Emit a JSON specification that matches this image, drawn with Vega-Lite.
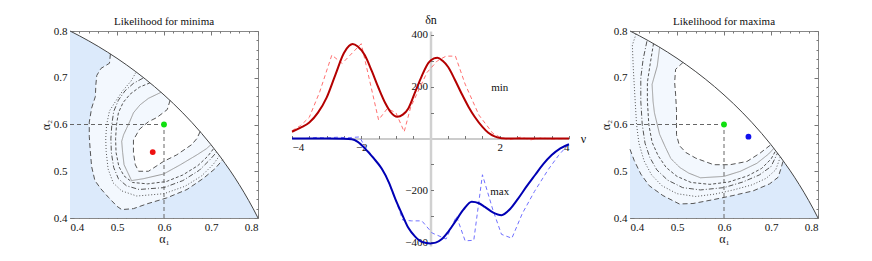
{
  "$schema": "https://vega.github.io/schema/vega-lite/v6.json",
  "background": "white",
  "padding": {"left": 38, "top": 13, "right": 5, "bottom": 5},
  "bounds": "flush",
  "spacing": 34,
  "config": {
    "font": "Liberation Serif",
    "view": {"stroke": "#888888", "strokeWidth": 1},
    "axis": {"labelFont": "Liberation Serif", "titleFont": "Liberation Serif", "labelFontSize": 11, "titleFontSize": 12, "labelColor": "#111111", "titleColor": "#111111", "titleFontWeight": "normal", "grid": false, "tickColor": "#777777", "domainColor": "#888888"},
    "title": {"font": "Liberation Serif", "fontSize": 11, "fontWeight": "normal", "color": "#111111", "offset": -2, "frame": "group"},
    "text": {"font": "Liberation Serif"}
  },
  "datasets": {
    "arc": [
      {"a1": 0.40, "a2": 0.8}, {"a1": 0.42, "a2": 0.7897}, {"a1": 0.44, "a2": 0.7787}, {"a1": 0.46, "a2": 0.7671}, {"a1": 0.48, "a2": 0.7547}, {"a1": 0.50, "a2": 0.7416}, {"a1": 0.52, "a2": 0.7277}, {"a1": 0.54, "a2": 0.7130}, {"a1": 0.56, "a2": 0.6974}, {"a1": 0.58, "a2": 0.6809}, {"a1": 0.60, "a2": 0.6633}, {"a1": 0.62, "a2": 0.6447}, {"a1": 0.64, "a2": 0.6248}, {"a1": 0.66, "a2": 0.6037}, {"a1": 0.68, "a2": 0.5810}, {"a1": 0.70, "a2": 0.5568}, {"a1": 0.72, "a2": 0.5307}, {"a1": 0.73, "a2": 0.5166}, {"a1": 0.74, "a2": 0.5024}, {"a1": 0.75, "a2": 0.4873}, {"a1": 0.76, "a2": 0.4716}, {"a1": 0.77, "a2": 0.4551}, {"a1": 0.78, "a2": 0.4377}, {"a1": 0.79, "a2": 0.4195}, {"a1": 0.80, "a2": 0.4}
    ],
    "minC": [
      {"c": 1, "i": 0, "a1": 0.486, "a2": 0.751}, {"c": 1, "i": 1, "a1": 0.484, "a2": 0.731}, {"c": 1, "i": 2, "a1": 0.466, "a2": 0.72}, {"c": 1, "i": 3, "a1": 0.457, "a2": 0.705}, {"c": 1, "i": 4, "a1": 0.455, "a2": 0.685}, {"c": 1, "i": 5, "a1": 0.454, "a2": 0.66}, {"c": 1, "i": 6, "a1": 0.446, "a2": 0.635}, {"c": 1, "i": 7, "a1": 0.441, "a2": 0.605}, {"c": 1, "i": 8, "a1": 0.441, "a2": 0.575}, {"c": 1, "i": 9, "a1": 0.443, "a2": 0.545}, {"c": 1, "i": 10, "a1": 0.446, "a2": 0.51}, {"c": 1, "i": 11, "a1": 0.453, "a2": 0.48}, {"c": 1, "i": 12, "a1": 0.466, "a2": 0.462}, {"c": 1, "i": 13, "a1": 0.482, "a2": 0.444}, {"c": 1, "i": 14, "a1": 0.5, "a2": 0.425}, {"c": 1, "i": 15, "a1": 0.51, "a2": 0.418}, {"c": 1, "i": 16, "a1": 0.535, "a2": 0.42}, {"c": 1, "i": 17, "a1": 0.563, "a2": 0.43}, {"c": 1, "i": 18, "a1": 0.606, "a2": 0.443}, {"c": 1, "i": 19, "a1": 0.649, "a2": 0.461}, {"c": 1, "i": 20, "a1": 0.684, "a2": 0.485}, {"c": 1, "i": 21, "a1": 0.708, "a2": 0.505}, {"c": 1, "i": 22, "a1": 0.725, "a2": 0.5245},
      {"c": 2, "i": 0, "a1": 0.54, "a2": 0.711}, {"c": 2, "i": 1, "a1": 0.53, "a2": 0.693}, {"c": 2, "i": 2, "a1": 0.512, "a2": 0.672}, {"c": 2, "i": 3, "a1": 0.498, "a2": 0.651}, {"c": 2, "i": 4, "a1": 0.484, "a2": 0.629}, {"c": 2, "i": 5, "a1": 0.478, "a2": 0.6}, {"c": 2, "i": 6, "a1": 0.476, "a2": 0.57}, {"c": 2, "i": 7, "a1": 0.477, "a2": 0.542}, {"c": 2, "i": 8, "a1": 0.481, "a2": 0.505}, {"c": 2, "i": 9, "a1": 0.492, "a2": 0.475}, {"c": 2, "i": 10, "a1": 0.51, "a2": 0.458}, {"c": 2, "i": 11, "a1": 0.542, "a2": 0.447}, {"c": 2, "i": 12, "a1": 0.6, "a2": 0.452}, {"c": 2, "i": 13, "a1": 0.645, "a2": 0.468}, {"c": 2, "i": 14, "a1": 0.68, "a2": 0.49}, {"c": 2, "i": 15, "a1": 0.705, "a2": 0.515}, {"c": 2, "i": 16, "a1": 0.718, "a2": 0.533},
      {"c": 3, "i": 0, "a1": 0.555, "a2": 0.699}, {"c": 3, "i": 1, "a1": 0.535, "a2": 0.688}, {"c": 3, "i": 2, "a1": 0.517, "a2": 0.672}, {"c": 3, "i": 3, "a1": 0.503, "a2": 0.652}, {"c": 3, "i": 4, "a1": 0.493, "a2": 0.628}, {"c": 3, "i": 5, "a1": 0.489, "a2": 0.6}, {"c": 3, "i": 6, "a1": 0.487, "a2": 0.57}, {"c": 3, "i": 7, "a1": 0.488, "a2": 0.54}, {"c": 3, "i": 8, "a1": 0.493, "a2": 0.508}, {"c": 3, "i": 9, "a1": 0.503, "a2": 0.484}, {"c": 3, "i": 10, "a1": 0.52, "a2": 0.469}, {"c": 3, "i": 11, "a1": 0.547, "a2": 0.461}, {"c": 3, "i": 12, "a1": 0.6, "a2": 0.465}, {"c": 3, "i": 13, "a1": 0.64, "a2": 0.48}, {"c": 3, "i": 14, "a1": 0.675, "a2": 0.502}, {"c": 3, "i": 15, "a1": 0.698, "a2": 0.525}, {"c": 3, "i": 16, "a1": 0.712, "a2": 0.541},
      {"c": 4, "i": 0, "a1": 0.57, "a2": 0.689}, {"c": 4, "i": 1, "a1": 0.548, "a2": 0.68}, {"c": 4, "i": 2, "a1": 0.528, "a2": 0.665}, {"c": 4, "i": 3, "a1": 0.513, "a2": 0.647}, {"c": 4, "i": 4, "a1": 0.503, "a2": 0.625}, {"c": 4, "i": 5, "a1": 0.499, "a2": 0.6}, {"c": 4, "i": 6, "a1": 0.497, "a2": 0.57}, {"c": 4, "i": 7, "a1": 0.498, "a2": 0.54}, {"c": 4, "i": 8, "a1": 0.504, "a2": 0.51}, {"c": 4, "i": 9, "a1": 0.515, "a2": 0.49}, {"c": 4, "i": 10, "a1": 0.533, "a2": 0.476}, {"c": 4, "i": 11, "a1": 0.565, "a2": 0.473}, {"c": 4, "i": 12, "a1": 0.605, "a2": 0.478}, {"c": 4, "i": 13, "a1": 0.64, "a2": 0.492}, {"c": 4, "i": 14, "a1": 0.672, "a2": 0.512}, {"c": 4, "i": 15, "a1": 0.693, "a2": 0.532}, {"c": 4, "i": 16, "a1": 0.706, "a2": 0.549},
      {"c": 5, "i": 0, "a1": 0.594, "a2": 0.669}, {"c": 5, "i": 1, "a1": 0.567, "a2": 0.656}, {"c": 5, "i": 2, "a1": 0.549, "a2": 0.642}, {"c": 5, "i": 3, "a1": 0.535, "a2": 0.625}, {"c": 5, "i": 4, "a1": 0.527, "a2": 0.606}, {"c": 5, "i": 5, "a1": 0.514, "a2": 0.578}, {"c": 5, "i": 6, "a1": 0.51, "a2": 0.564}, {"c": 5, "i": 7, "a1": 0.512, "a2": 0.54}, {"c": 5, "i": 8, "a1": 0.515, "a2": 0.514}, {"c": 5, "i": 9, "a1": 0.531, "a2": 0.48}, {"c": 5, "i": 10, "a1": 0.556, "a2": 0.484}, {"c": 5, "i": 11, "a1": 0.599, "a2": 0.494}, {"c": 5, "i": 12, "a1": 0.635, "a2": 0.514}, {"c": 5, "i": 13, "a1": 0.67, "a2": 0.535}, {"c": 5, "i": 14, "a1": 0.69, "a2": 0.548}, {"c": 5, "i": 15, "a1": 0.7, "a2": 0.557},
      {"c": 6, "i": 0, "a1": 0.613, "a2": 0.652}, {"c": 6, "i": 1, "a1": 0.607, "a2": 0.632}, {"c": 6, "i": 2, "a1": 0.585, "a2": 0.615}, {"c": 6, "i": 3, "a1": 0.567, "a2": 0.606}, {"c": 6, "i": 4, "a1": 0.548, "a2": 0.59}, {"c": 6, "i": 5, "a1": 0.535, "a2": 0.567}, {"c": 6, "i": 6, "a1": 0.535, "a2": 0.54}, {"c": 6, "i": 7, "a1": 0.539, "a2": 0.514}, {"c": 6, "i": 8, "a1": 0.546, "a2": 0.5}, {"c": 6, "i": 9, "a1": 0.567, "a2": 0.5}, {"c": 6, "i": 10, "a1": 0.599, "a2": 0.521}, {"c": 6, "i": 11, "a1": 0.627, "a2": 0.535}, {"c": 6, "i": 12, "a1": 0.659, "a2": 0.557}, {"c": 6, "i": 13, "a1": 0.67, "a2": 0.57}, {"c": 6, "i": 14, "a1": 0.677, "a2": 0.585}
    ],
    "maxC": [
      {"c": 1, "i": 0, "a1": 0.4, "a2": 0.547}, {"c": 1, "i": 1, "a1": 0.409, "a2": 0.523}, {"c": 1, "i": 2, "a1": 0.423, "a2": 0.494}, {"c": 1, "i": 3, "a1": 0.441, "a2": 0.469}, {"c": 1, "i": 4, "a1": 0.47, "a2": 0.448}, {"c": 1, "i": 5, "a1": 0.505, "a2": 0.43}, {"c": 1, "i": 6, "a1": 0.534, "a2": 0.431}, {"c": 1, "i": 7, "a1": 0.576, "a2": 0.439}, {"c": 1, "i": 8, "a1": 0.619, "a2": 0.448}, {"c": 1, "i": 9, "a1": 0.662, "a2": 0.458}, {"c": 1, "i": 10, "a1": 0.697, "a2": 0.473}, {"c": 1, "i": 11, "a1": 0.715, "a2": 0.487}, {"c": 1, "i": 12, "a1": 0.721, "a2": 0.505}, {"c": 1, "i": 13, "a1": 0.726, "a2": 0.523},
      {"c": 2, "i": 0, "a1": 0.413, "a2": 0.794}, {"c": 2, "i": 1, "a1": 0.405, "a2": 0.77}, {"c": 2, "i": 2, "a1": 0.407, "a2": 0.72}, {"c": 2, "i": 3, "a1": 0.411, "a2": 0.65}, {"c": 2, "i": 4, "a1": 0.414, "a2": 0.6}, {"c": 2, "i": 5, "a1": 0.419, "a2": 0.56}, {"c": 2, "i": 6, "a1": 0.43, "a2": 0.522}, {"c": 2, "i": 7, "a1": 0.446, "a2": 0.492}, {"c": 2, "i": 8, "a1": 0.468, "a2": 0.469}, {"c": 2, "i": 9, "a1": 0.5, "a2": 0.452}, {"c": 2, "i": 10, "a1": 0.54, "a2": 0.446}, {"c": 2, "i": 11, "a1": 0.58, "a2": 0.451}, {"c": 2, "i": 12, "a1": 0.62, "a2": 0.46}, {"c": 2, "i": 13, "a1": 0.66, "a2": 0.471}, {"c": 2, "i": 14, "a1": 0.69, "a2": 0.485}, {"c": 2, "i": 15, "a1": 0.71, "a2": 0.503}, {"c": 2, "i": 16, "a1": 0.72, "a2": 0.531},
      {"c": 3, "i": 0, "a1": 0.436, "a2": 0.778}, {"c": 3, "i": 1, "a1": 0.428, "a2": 0.74}, {"c": 3, "i": 2, "a1": 0.423, "a2": 0.7}, {"c": 3, "i": 3, "a1": 0.423, "a2": 0.65}, {"c": 3, "i": 4, "a1": 0.426, "a2": 0.6}, {"c": 3, "i": 5, "a1": 0.432, "a2": 0.56}, {"c": 3, "i": 6, "a1": 0.442, "a2": 0.53}, {"c": 3, "i": 7, "a1": 0.457, "a2": 0.503}, {"c": 3, "i": 8, "a1": 0.48, "a2": 0.481}, {"c": 3, "i": 9, "a1": 0.512, "a2": 0.465}, {"c": 3, "i": 10, "a1": 0.55, "a2": 0.46}, {"c": 3, "i": 11, "a1": 0.6, "a2": 0.465}, {"c": 3, "i": 12, "a1": 0.64, "a2": 0.477}, {"c": 3, "i": 13, "a1": 0.675, "a2": 0.492}, {"c": 3, "i": 14, "a1": 0.7, "a2": 0.51}, {"c": 3, "i": 15, "a1": 0.714, "a2": 0.539},
      {"c": 4, "i": 0, "a1": 0.45, "a2": 0.773}, {"c": 4, "i": 1, "a1": 0.443, "a2": 0.73}, {"c": 4, "i": 2, "a1": 0.437, "a2": 0.69}, {"c": 4, "i": 3, "a1": 0.437, "a2": 0.65}, {"c": 4, "i": 4, "a1": 0.44, "a2": 0.6}, {"c": 4, "i": 5, "a1": 0.447, "a2": 0.562}, {"c": 4, "i": 6, "a1": 0.46, "a2": 0.533}, {"c": 4, "i": 7, "a1": 0.477, "a2": 0.508}, {"c": 4, "i": 8, "a1": 0.5, "a2": 0.489}, {"c": 4, "i": 9, "a1": 0.53, "a2": 0.476}, {"c": 4, "i": 10, "a1": 0.57, "a2": 0.472}, {"c": 4, "i": 11, "a1": 0.61, "a2": 0.477}, {"c": 4, "i": 12, "a1": 0.65, "a2": 0.49}, {"c": 4, "i": 13, "a1": 0.68, "a2": 0.506}, {"c": 4, "i": 14, "a1": 0.7, "a2": 0.526}, {"c": 4, "i": 15, "a1": 0.71, "a2": 0.544},
      {"c": 5, "i": 0, "a1": 0.463, "a2": 0.765}, {"c": 5, "i": 1, "a1": 0.458, "a2": 0.725}, {"c": 5, "i": 2, "a1": 0.447, "a2": 0.686}, {"c": 5, "i": 3, "a1": 0.449, "a2": 0.65}, {"c": 5, "i": 4, "a1": 0.452, "a2": 0.625}, {"c": 5, "i": 5, "a1": 0.463, "a2": 0.579}, {"c": 5, "i": 6, "a1": 0.475, "a2": 0.552}, {"c": 5, "i": 7, "a1": 0.487, "a2": 0.527}, {"c": 5, "i": 8, "a1": 0.506, "a2": 0.508}, {"c": 5, "i": 9, "a1": 0.525, "a2": 0.496}, {"c": 5, "i": 10, "a1": 0.55, "a2": 0.486}, {"c": 5, "i": 11, "a1": 0.6, "a2": 0.489}, {"c": 5, "i": 12, "a1": 0.635, "a2": 0.5}, {"c": 5, "i": 13, "a1": 0.67, "a2": 0.517}, {"c": 5, "i": 14, "a1": 0.695, "a2": 0.537}, {"c": 5, "i": 15, "a1": 0.706, "a2": 0.549},
      {"c": 6, "i": 0, "a1": 0.513, "a2": 0.733}, {"c": 6, "i": 1, "a1": 0.497, "a2": 0.718}, {"c": 6, "i": 2, "a1": 0.495, "a2": 0.69}, {"c": 6, "i": 3, "a1": 0.497, "a2": 0.665}, {"c": 6, "i": 4, "a1": 0.499, "a2": 0.63}, {"c": 6, "i": 5, "a1": 0.499, "a2": 0.6}, {"c": 6, "i": 6, "a1": 0.499, "a2": 0.578}, {"c": 6, "i": 7, "a1": 0.505, "a2": 0.555}, {"c": 6, "i": 8, "a1": 0.519, "a2": 0.54}, {"c": 6, "i": 9, "a1": 0.54, "a2": 0.528}, {"c": 6, "i": 10, "a1": 0.578, "a2": 0.514}, {"c": 6, "i": 11, "a1": 0.613, "a2": 0.514}, {"c": 6, "i": 12, "a1": 0.649, "a2": 0.521}, {"c": 6, "i": 13, "a1": 0.677, "a2": 0.539}, {"c": 6, "i": 14, "a1": 0.7, "a2": 0.557}
    ],
    "minP1": [
      {"i": 0, "a1": 0.486, "a2": 0.751}, {"i": 1, "a1": 0.484, "a2": 0.731}, {"i": 2, "a1": 0.466, "a2": 0.72}, {"i": 3, "a1": 0.457, "a2": 0.705}, {"i": 4, "a1": 0.455, "a2": 0.685}, {"i": 5, "a1": 0.454, "a2": 0.66}, {"i": 6, "a1": 0.446, "a2": 0.635}, {"i": 7, "a1": 0.441, "a2": 0.605}, {"i": 8, "a1": 0.441, "a2": 0.575}, {"i": 9, "a1": 0.443, "a2": 0.545}, {"i": 10, "a1": 0.446, "a2": 0.51}, {"i": 11, "a1": 0.453, "a2": 0.48}, {"i": 12, "a1": 0.466, "a2": 0.462}, {"i": 13, "a1": 0.482, "a2": 0.444}, {"i": 14, "a1": 0.5, "a2": 0.425}, {"i": 15, "a1": 0.51, "a2": 0.418}, {"i": 16, "a1": 0.535, "a2": 0.42}, {"i": 17, "a1": 0.563, "a2": 0.43}, {"i": 18, "a1": 0.606, "a2": 0.443}, {"i": 19, "a1": 0.649, "a2": 0.461}, {"i": 20, "a1": 0.684, "a2": 0.485}, {"i": 21, "a1": 0.708, "a2": 0.505}, {"i": 22, "a1": 0.725, "a2": 0.5245},
      {"i": 23, "a1": 0.72, "a2": 0.5307}, {"i": 24, "a1": 0.70, "a2": 0.5568}, {"i": 25, "a1": 0.68, "a2": 0.5810}, {"i": 26, "a1": 0.66, "a2": 0.6037}, {"i": 27, "a1": 0.64, "a2": 0.6248}, {"i": 28, "a1": 0.62, "a2": 0.6447}, {"i": 29, "a1": 0.60, "a2": 0.6633}, {"i": 30, "a1": 0.58, "a2": 0.6809}, {"i": 31, "a1": 0.56, "a2": 0.6974}, {"i": 32, "a1": 0.54, "a2": 0.7130}, {"i": 33, "a1": 0.52, "a2": 0.7277}, {"i": 34, "a1": 0.50, "a2": 0.7416}, {"i": 35, "a1": 0.49, "a2": 0.7483}
    ],
    "minP6": [
      {"i": 0, "a1": 0.613, "a2": 0.652}, {"i": 1, "a1": 0.607, "a2": 0.632}, {"i": 2, "a1": 0.585, "a2": 0.615}, {"i": 3, "a1": 0.567, "a2": 0.606}, {"i": 4, "a1": 0.548, "a2": 0.59}, {"i": 5, "a1": 0.535, "a2": 0.567}, {"i": 6, "a1": 0.535, "a2": 0.54}, {"i": 7, "a1": 0.539, "a2": 0.514}, {"i": 8, "a1": 0.546, "a2": 0.5}, {"i": 9, "a1": 0.567, "a2": 0.5}, {"i": 10, "a1": 0.599, "a2": 0.521}, {"i": 11, "a1": 0.627, "a2": 0.535}, {"i": 12, "a1": 0.659, "a2": 0.557}, {"i": 13, "a1": 0.67, "a2": 0.57}, {"i": 14, "a1": 0.677, "a2": 0.585},
      {"i": 15, "a1": 0.66, "a2": 0.6037}, {"i": 16, "a1": 0.64, "a2": 0.6248}, {"i": 17, "a1": 0.62, "a2": 0.6447}
    ],
    "maxP1": [
      {"i": 0, "a1": 0.4, "a2": 0.547}, {"i": 1, "a1": 0.409, "a2": 0.523}, {"i": 2, "a1": 0.423, "a2": 0.494}, {"i": 3, "a1": 0.441, "a2": 0.469}, {"i": 4, "a1": 0.47, "a2": 0.448}, {"i": 5, "a1": 0.505, "a2": 0.43}, {"i": 6, "a1": 0.534, "a2": 0.431}, {"i": 7, "a1": 0.576, "a2": 0.439}, {"i": 8, "a1": 0.619, "a2": 0.448}, {"i": 9, "a1": 0.662, "a2": 0.458}, {"i": 10, "a1": 0.697, "a2": 0.473}, {"i": 11, "a1": 0.715, "a2": 0.487}, {"i": 12, "a1": 0.721, "a2": 0.505}, {"i": 13, "a1": 0.726, "a2": 0.523},
      {"i": 14, "a1": 0.72, "a2": 0.5307}, {"i": 15, "a1": 0.70, "a2": 0.5568}, {"i": 16, "a1": 0.68, "a2": 0.5810}, {"i": 17, "a1": 0.66, "a2": 0.6037}, {"i": 18, "a1": 0.64, "a2": 0.6248}, {"i": 19, "a1": 0.62, "a2": 0.6447}, {"i": 20, "a1": 0.60, "a2": 0.6633}, {"i": 21, "a1": 0.58, "a2": 0.6809}, {"i": 22, "a1": 0.56, "a2": 0.6974}, {"i": 23, "a1": 0.54, "a2": 0.7130}, {"i": 24, "a1": 0.52, "a2": 0.7277}, {"i": 25, "a1": 0.50, "a2": 0.7416}, {"i": 26, "a1": 0.48, "a2": 0.7547}, {"i": 27, "a1": 0.46, "a2": 0.7671}, {"i": 28, "a1": 0.44, "a2": 0.7787}, {"i": 29, "a1": 0.42, "a2": 0.7897}, {"i": 30, "a1": 0.40, "a2": 0.8}
    ],
    "maxP6": [
      {"i": 0, "a1": 0.513, "a2": 0.733}, {"i": 1, "a1": 0.497, "a2": 0.718}, {"i": 2, "a1": 0.495, "a2": 0.69}, {"i": 3, "a1": 0.497, "a2": 0.665}, {"i": 4, "a1": 0.499, "a2": 0.63}, {"i": 5, "a1": 0.499, "a2": 0.6}, {"i": 6, "a1": 0.499, "a2": 0.578}, {"i": 7, "a1": 0.505, "a2": 0.555}, {"i": 8, "a1": 0.519, "a2": 0.54}, {"i": 9, "a1": 0.54, "a2": 0.528}, {"i": 10, "a1": 0.578, "a2": 0.514}, {"i": 11, "a1": 0.613, "a2": 0.514}, {"i": 12, "a1": 0.649, "a2": 0.521}, {"i": 13, "a1": 0.677, "a2": 0.539}, {"i": 14, "a1": 0.7, "a2": 0.557},
      {"i": 15, "a1": 0.68, "a2": 0.5810}, {"i": 16, "a1": 0.66, "a2": 0.6037}, {"i": 17, "a1": 0.64, "a2": 0.6248}, {"i": 18, "a1": 0.62, "a2": 0.6447}, {"i": 19, "a1": 0.60, "a2": 0.6633}, {"i": 20, "a1": 0.58, "a2": 0.6809}, {"i": 21, "a1": 0.56, "a2": 0.6974}, {"i": 22, "a1": 0.54, "a2": 0.7130}, {"i": 23, "a1": 0.52, "a2": 0.7277}
    ],
    "curve": [
      {"s": "minfit", "nu": -4.0, "dn": 26}, {"s": "minfit", "nu": -3.75, "dn": 42}, {"s": "minfit", "nu": -3.5, "dn": 62}, {"s": "minfit", "nu": -3.25, "dn": 100}, {"s": "minfit", "nu": -3.0, "dn": 158}, {"s": "minfit", "nu": -2.75, "dn": 245}, {"s": "minfit", "nu": -2.5, "dn": 330}, {"s": "minfit", "nu": -2.35, "dn": 358}, {"s": "minfit", "nu": -2.25, "dn": 365}, {"s": "minfit", "nu": -2.1, "dn": 355}, {"s": "minfit", "nu": -1.9, "dn": 322}, {"s": "minfit", "nu": -1.7, "dn": 262}, {"s": "minfit", "nu": -1.5, "dn": 195}, {"s": "minfit", "nu": -1.3, "dn": 135}, {"s": "minfit", "nu": -1.15, "dn": 102}, {"s": "minfit", "nu": -0.96, "dn": 84}, {"s": "minfit", "nu": -0.8, "dn": 92}, {"s": "minfit", "nu": -0.64, "dn": 116}, {"s": "minfit", "nu": -0.45, "dn": 177}, {"s": "minfit", "nu": -0.25, "dn": 242}, {"s": "minfit", "nu": -0.06, "dn": 292}, {"s": "minfit", "nu": 0.1, "dn": 309}, {"s": "minfit", "nu": 0.2, "dn": 312}, {"s": "minfit", "nu": 0.35, "dn": 300}, {"s": "minfit", "nu": 0.51, "dn": 276}, {"s": "minfit", "nu": 0.7, "dn": 228}, {"s": "minfit", "nu": 0.9, "dn": 173}, {"s": "minfit", "nu": 1.1, "dn": 122}, {"s": "minfit", "nu": 1.28, "dn": 83}, {"s": "minfit", "nu": 1.5, "dn": 45}, {"s": "minfit", "nu": 1.67, "dn": 22}, {"s": "minfit", "nu": 1.85, "dn": 8}, {"s": "minfit", "nu": 2.05, "dn": 1}, {"s": "minfit", "nu": 2.3, "dn": 0}, {"s": "minfit", "nu": 3.0, "dn": 0}, {"s": "minfit", "nu": 4.0, "dn": 0},
      {"s": "mindata", "nu": -4.0, "dn": 30}, {"s": "mindata", "nu": -3.75, "dn": 50}, {"s": "mindata", "nu": -3.5, "dn": 82}, {"s": "mindata", "nu": -3.2, "dn": 180}, {"s": "mindata", "nu": -2.85, "dn": 322}, {"s": "mindata", "nu": -2.55, "dn": 290}, {"s": "mindata", "nu": -2.0, "dn": 366}, {"s": "mindata", "nu": -1.5, "dn": 72}, {"s": "mindata", "nu": -1.25, "dn": 115}, {"s": "mindata", "nu": -1.0, "dn": 100}, {"s": "mindata", "nu": -0.76, "dn": 26}, {"s": "mindata", "nu": -0.57, "dn": 122}, {"s": "mindata", "nu": -0.1, "dn": 255}, {"s": "mindata", "nu": 0.2, "dn": 300}, {"s": "mindata", "nu": 0.45, "dn": 318}, {"s": "mindata", "nu": 0.72, "dn": 318}, {"s": "mindata", "nu": 1.0, "dn": 210}, {"s": "mindata", "nu": 1.4, "dn": 90}, {"s": "mindata", "nu": 1.8, "dn": 20}, {"s": "mindata", "nu": 2.05, "dn": 2}, {"s": "mindata", "nu": 2.3, "dn": -4}, {"s": "mindata", "nu": 2.6, "dn": 5}, {"s": "mindata", "nu": 2.9, "dn": -5}, {"s": "mindata", "nu": 3.2, "dn": 2}, {"s": "mindata", "nu": 3.5, "dn": -2}, {"s": "mindata", "nu": 4.0, "dn": 0},
      {"s": "maxfit", "nu": -4.0, "dn": 0}, {"s": "maxfit", "nu": -3.0, "dn": 0}, {"s": "maxfit", "nu": -2.5, "dn": -1}, {"s": "maxfit", "nu": -2.27, "dn": -3}, {"s": "maxfit", "nu": -2.1, "dn": -13}, {"s": "maxfit", "nu": -1.89, "dn": -39}, {"s": "maxfit", "nu": -1.65, "dn": -75}, {"s": "maxfit", "nu": -1.41, "dn": -116}, {"s": "maxfit", "nu": -1.2, "dn": -170}, {"s": "maxfit", "nu": -1.02, "dn": -232}, {"s": "maxfit", "nu": -0.83, "dn": -290}, {"s": "maxfit", "nu": -0.64, "dn": -345}, {"s": "maxfit", "nu": -0.45, "dn": -378}, {"s": "maxfit", "nu": -0.25, "dn": -399}, {"s": "maxfit", "nu": 0.0, "dn": -405}, {"s": "maxfit", "nu": 0.15, "dn": -402}, {"s": "maxfit", "nu": 0.32, "dn": -389}, {"s": "maxfit", "nu": 0.5, "dn": -362}, {"s": "maxfit", "nu": 0.71, "dn": -322}, {"s": "maxfit", "nu": 0.95, "dn": -275}, {"s": "maxfit", "nu": 1.19, "dn": -244}, {"s": "maxfit", "nu": 1.4, "dn": -250}, {"s": "maxfit", "nu": 1.57, "dn": -264}, {"s": "maxfit", "nu": 1.8, "dn": -285}, {"s": "maxfit", "nu": 2.05, "dn": -296}, {"s": "maxfit", "nu": 2.3, "dn": -272}, {"s": "maxfit", "nu": 2.53, "dn": -232}, {"s": "maxfit", "nu": 2.77, "dn": -186}, {"s": "maxfit", "nu": 3.02, "dn": -141}, {"s": "maxfit", "nu": 3.25, "dn": -100}, {"s": "maxfit", "nu": 3.5, "dn": -64}, {"s": "maxfit", "nu": 3.75, "dn": -38}, {"s": "maxfit", "nu": 4.0, "dn": -22},
      {"s": "maxdata", "nu": -4.0, "dn": 0}, {"s": "maxdata", "nu": -3.6, "dn": 0}, {"s": "maxdata", "nu": -3.3, "dn": 4}, {"s": "maxdata", "nu": -3.0, "dn": 2}, {"s": "maxdata", "nu": -2.7, "dn": 5}, {"s": "maxdata", "nu": -2.4, "dn": 3}, {"s": "maxdata", "nu": -2.05, "dn": 6}, {"s": "maxdata", "nu": -1.9, "dn": -30}, {"s": "maxdata", "nu": -1.6, "dn": -80}, {"s": "maxdata", "nu": -1.3, "dn": -140}, {"s": "maxdata", "nu": -1.0, "dn": -240}, {"s": "maxdata", "nu": -0.8, "dn": -315}, {"s": "maxdata", "nu": -0.55, "dn": -318}, {"s": "maxdata", "nu": -0.25, "dn": -318}, {"s": "maxdata", "nu": 0.05, "dn": -365}, {"s": "maxdata", "nu": 0.45, "dn": -388}, {"s": "maxdata", "nu": 0.75, "dn": -300}, {"s": "maxdata", "nu": 1.0, "dn": -395}, {"s": "maxdata", "nu": 1.25, "dn": -393}, {"s": "maxdata", "nu": 1.5, "dn": -140}, {"s": "maxdata", "nu": 1.8, "dn": -275}, {"s": "maxdata", "nu": 2.05, "dn": -370}, {"s": "maxdata", "nu": 2.35, "dn": -385}, {"s": "maxdata", "nu": 2.65, "dn": -290}, {"s": "maxdata", "nu": 3.0, "dn": -205}, {"s": "maxdata", "nu": 3.4, "dn": -120}, {"s": "maxdata", "nu": 3.7, "dn": -65}, {"s": "maxdata", "nu": 4.0, "dn": -20}
    ]
  },
  "hconcat": [
    {
      "width": 188, "height": 187,
      "title": "Likelihood for minima",
      "resolve": {"axis": {"x": "independent", "y": "independent"}},
      "layer": [
        {
          "data": {"name": "arc"},
          "mark": {"type": "area", "color": "#dceafb"},
          "encoding": {
            "x": {"field": "a1", "type": "quantitative", "scale": {"domain": [0.4, 0.8], "nice": false, "zero": false}, "axis": {"orient": "bottom", "values": [0.4, 0.5, 0.6, 0.7, 0.8], "format": ".1f", "ticks": false, "tickSize": 0, "domain": false, "labelPadding": 3, "title": "α₁", "titlePadding": 1}},
            "y": {"field": "a2", "type": "quantitative", "scale": {"domain": [0.4, 0.8], "nice": false, "zero": false}, "axis": {"orient": "left", "values": [0.4, 0.5, 0.6, 0.7, 0.8], "format": ".1f", "ticks": false, "tickSize": 0, "domain": false, "labelPadding": 3, "title": "α₂", "titlePadding": 1}},
            "y2": {"datum": 0.4}
          }
        },
        {
          "data": {"name": "minP1"},
          "mark": {"type": "line", "fill": "#f3f8fe", "strokeWidth": 0},
          "encoding": {
            "x": {"field": "a1", "type": "quantitative", "axis": {"orient": "bottom", "values": [0.4, 0.5, 0.6, 0.7, 0.8], "labels": false, "domain": false, "tickSize": -4, "title": null}},
            "y": {"field": "a2", "type": "quantitative", "axis": {"orient": "left", "values": [0.4, 0.5, 0.6, 0.7, 0.8], "labels": false, "domain": false, "tickSize": -4, "title": null}},
            "order": {"field": "i", "type": "quantitative"}
          }
        },
        {
          "data": {"name": "minP6"},
          "mark": {"type": "line", "fill": "#ffffff", "strokeWidth": 0},
          "encoding": {
            "x": {"field": "a1", "type": "quantitative", "axis": {"orient": "bottom", "values": [0.42, 0.44, 0.46, 0.48, 0.52, 0.54, 0.56, 0.58, 0.62, 0.64, 0.66, 0.68, 0.72, 0.74, 0.76, 0.78], "labels": false, "domain": false, "tickSize": -2, "title": null}},
            "y": {"field": "a2", "type": "quantitative", "axis": {"orient": "left", "values": [0.42, 0.44, 0.46, 0.48, 0.52, 0.54, 0.56, 0.58, 0.62, 0.64, 0.66, 0.68, 0.72, 0.74, 0.76, 0.78], "labels": false, "domain": false, "tickSize": -2, "title": null}},
            "order": {"field": "i", "type": "quantitative"}
          }
        },
        {
          "data": {"name": "minC"},
          "mark": {"type": "line", "strokeWidth": 1},
          "encoding": {
            "x": {"field": "a1", "type": "quantitative", "axis": {"orient": "top", "values": [0.4, 0.5, 0.6, 0.7, 0.8], "labels": false, "domain": false, "tickSize": -4, "title": null}},
            "y": {"field": "a2", "type": "quantitative", "axis": {"orient": "right", "values": [0.4, 0.5, 0.6, 0.7, 0.8], "labels": false, "domain": false, "tickSize": -4, "title": null}},
            "order": {"field": "i", "type": "quantitative"},
            "detail": {"field": "c", "type": "nominal"},
            "color": {"field": "c", "type": "nominal", "scale": {"domain": [1, 2, 3, 4, 5, 6], "range": ["#555555", "#555555", "#555555", "#555555", "#9a9a9a", "#555555"]}, "legend": null},
            "strokeDash": {"field": "c", "type": "nominal", "scale": {"domain": [1, 2, 3, 4, 5, 6], "range": [[5, 3], [1, 2], [5, 2, 1, 2], [3, 2], [1, 0], [5, 3]]}, "legend": null}
          }
        },
        {
          "data": {"name": "arc"},
          "mark": {"type": "line", "color": "#444444", "strokeWidth": 1},
          "encoding": {
            "x": {"field": "a1", "type": "quantitative", "axis": {"orient": "top", "values": [0.42, 0.44, 0.46, 0.48, 0.52, 0.54, 0.56, 0.58, 0.62, 0.64, 0.66, 0.68, 0.72, 0.74, 0.76, 0.78], "labels": false, "domain": false, "tickSize": -2, "title": null}},
            "y": {"field": "a2", "type": "quantitative", "axis": {"orient": "right", "values": [0.42, 0.44, 0.46, 0.48, 0.52, 0.54, 0.56, 0.58, 0.62, 0.64, 0.66, 0.68, 0.72, 0.74, 0.76, 0.78], "labels": false, "domain": false, "tickSize": -2, "title": null}}
          }
        },
        {
          "data": {"values": [{"a1": 0.4, "a1e": 0.6, "a2": 0.6, "a2e": 0.6}, {"a1": 0.6, "a1e": 0.6, "a2": 0.4, "a2e": 0.6}]},
          "mark": {"type": "rule", "color": "#666666", "strokeDash": [4, 3], "strokeWidth": 1},
          "encoding": {
            "x": {"field": "a1", "type": "quantitative", "axis": null},
            "x2": {"field": "a1e"},
            "y": {"field": "a2", "type": "quantitative", "axis": null},
            "y2": {"field": "a2e"}
          }
        },
        {
          "data": {"values": [{"a1": 0.6, "a2": 0.6}]},
          "mark": {"type": "circle", "size": 34, "opacity": 1, "color": "#10e010"},
          "encoding": {
            "x": {"field": "a1", "type": "quantitative", "axis": null},
            "y": {"field": "a2", "type": "quantitative", "axis": null}
          }
        },
        {
          "data": {"values": [{"a1": 0.576, "a2": 0.541}]},
          "mark": {"type": "circle", "size": 34, "opacity": 1, "color": "#ee1111"},
          "encoding": {
            "x": {"field": "a1", "type": "quantitative", "axis": null},
            "y": {"field": "a2", "type": "quantitative", "axis": null}
          }
        }
      ]
    },
    {
      "width": 304, "height": 215,
      "view": {"stroke": null},
      "resolve": {"axis": {"x": "independent", "y": "independent"}},
      "layer": [
        {
          "data": {"name": "curve"},
          "transform": [{"filter": "datum.s === 'mindata'"}],
          "mark": {"type": "line", "color": "#ff7070", "strokeWidth": 1, "strokeDash": [4, 3]},
          "encoding": {
            "x": {"field": "nu", "type": "quantitative", "scale": {"domain": [-4, 4], "range": [0, 277], "nice": false, "zero": false}, "axis": {"orient": "bottom", "offset": -107.5, "values": [-4, -2, 2, 4], "format": "d", "ticks": false, "tickSize": 0, "domain": true, "domainColor": "#999999", "domainWidth": 1, "labelPadding": 3, "title": "ν", "titleX": 291, "titleY": 4, "titleAlign": "center", "titleBaseline": "alphabetic", "titleFontSize": 12}},
            "y": {"field": "dn", "type": "quantitative", "scale": {"domain": [-415, 415], "nice": false, "zero": false}, "axis": {"orient": "left", "offset": -138.5, "values": [-400, -200, 200, 400], "format": "d", "ticks": false, "tickSize": 0, "domain": true, "domainColor": "#d0d0d0", "domainWidth": 2.5, "labelPadding": 3, "title": "δn", "titleAngle": 0, "titleX": 0, "titleY": -5, "titleAlign": "center", "titleBaseline": "bottom", "titleFontSize": 12}}
          }
        },
        {
          "data": {"name": "curve"},
          "transform": [{"filter": "datum.s === 'maxdata'"}],
          "mark": {"type": "line", "color": "#7070ff", "strokeWidth": 1, "strokeDash": [4, 3]},
          "encoding": {
            "x": {"field": "nu", "type": "quantitative", "axis": {"orient": "bottom", "offset": -107.5, "values": [-4, -3.5, -3, -2.5, -2, -1.5, -1, -0.5, 0.5, 1, 1.5, 2, 2.5, 3, 3.5, 4], "labels": false, "domain": false, "tickSize": -3, "title": null}},
            "y": {"field": "dn", "type": "quantitative", "axis": {"orient": "left", "offset": -138.5, "values": [-400, -300, -200, -100, 100, 200, 300, 400], "labels": false, "domain": false, "tickSize": -3, "title": null}}
          }
        },
        {
          "data": {"name": "curve"},
          "transform": [{"filter": "datum.s === 'minfit'"}],
          "mark": {"type": "line", "color": "#b40000", "strokeWidth": 2, "interpolate": "monotone"},
          "encoding": {
            "x": {"field": "nu", "type": "quantitative", "axis": null},
            "y": {"field": "dn", "type": "quantitative", "axis": null}
          }
        },
        {
          "data": {"name": "curve"},
          "transform": [{"filter": "datum.s === 'maxfit'"}],
          "mark": {"type": "line", "color": "#0000b4", "strokeWidth": 2, "interpolate": "monotone"},
          "encoding": {
            "x": {"field": "nu", "type": "quantitative", "axis": null},
            "y": {"field": "dn", "type": "quantitative", "axis": null}
          }
        },
        {
          "data": {"values": [{"nu": 2.0, "dn": 196, "t": "min"}, {"nu": 2.0, "dn": -206, "t": "max"}]},
          "mark": {"type": "text", "fontSize": 11, "color": "#111111", "font": "Liberation Serif"},
          "encoding": {
            "x": {"field": "nu", "type": "quantitative", "axis": null},
            "y": {"field": "dn", "type": "quantitative", "axis": null},
            "text": {"field": "t"}
          }
        }
      ]
    },
    {
      "width": 188, "height": 187,
      "title": "Likelihood for maxima",
      "resolve": {"axis": {"x": "independent", "y": "independent"}},
      "layer": [
        {
          "data": {"name": "arc"},
          "mark": {"type": "area", "color": "#dceafb"},
          "encoding": {
            "x": {"field": "a1", "type": "quantitative", "scale": {"domain": [0.4, 0.8], "nice": false, "zero": false}, "axis": {"orient": "bottom", "values": [0.4, 0.5, 0.6, 0.7, 0.8], "format": ".1f", "ticks": false, "tickSize": 0, "domain": false, "labelPadding": 3, "title": "α₁", "titlePadding": 1}},
            "y": {"field": "a2", "type": "quantitative", "scale": {"domain": [0.4, 0.8], "nice": false, "zero": false}, "axis": {"orient": "left", "values": [0.4, 0.5, 0.6, 0.7, 0.8], "format": ".1f", "ticks": false, "tickSize": 0, "domain": false, "labelPadding": 3, "title": "α₂", "titlePadding": 1}},
            "y2": {"datum": 0.4}
          }
        },
        {
          "data": {"name": "maxP1"},
          "mark": {"type": "line", "fill": "#f3f8fe", "strokeWidth": 0},
          "encoding": {
            "x": {"field": "a1", "type": "quantitative", "axis": {"orient": "bottom", "values": [0.4, 0.5, 0.6, 0.7, 0.8], "labels": false, "domain": false, "tickSize": -4, "title": null}},
            "y": {"field": "a2", "type": "quantitative", "axis": {"orient": "left", "values": [0.4, 0.5, 0.6, 0.7, 0.8], "labels": false, "domain": false, "tickSize": -4, "title": null}},
            "order": {"field": "i", "type": "quantitative"}
          }
        },
        {
          "data": {"name": "maxP6"},
          "mark": {"type": "line", "fill": "#ffffff", "strokeWidth": 0},
          "encoding": {
            "x": {"field": "a1", "type": "quantitative", "axis": {"orient": "bottom", "values": [0.42, 0.44, 0.46, 0.48, 0.52, 0.54, 0.56, 0.58, 0.62, 0.64, 0.66, 0.68, 0.72, 0.74, 0.76, 0.78], "labels": false, "domain": false, "tickSize": -2, "title": null}},
            "y": {"field": "a2", "type": "quantitative", "axis": {"orient": "left", "values": [0.42, 0.44, 0.46, 0.48, 0.52, 0.54, 0.56, 0.58, 0.62, 0.64, 0.66, 0.68, 0.72, 0.74, 0.76, 0.78], "labels": false, "domain": false, "tickSize": -2, "title": null}},
            "order": {"field": "i", "type": "quantitative"}
          }
        },
        {
          "data": {"name": "maxC"},
          "mark": {"type": "line", "strokeWidth": 1},
          "encoding": {
            "x": {"field": "a1", "type": "quantitative", "axis": {"orient": "top", "values": [0.4, 0.5, 0.6, 0.7, 0.8], "labels": false, "domain": false, "tickSize": -4, "title": null}},
            "y": {"field": "a2", "type": "quantitative", "axis": {"orient": "right", "values": [0.4, 0.5, 0.6, 0.7, 0.8], "labels": false, "domain": false, "tickSize": -4, "title": null}},
            "order": {"field": "i", "type": "quantitative"},
            "detail": {"field": "c", "type": "nominal"},
            "color": {"field": "c", "type": "nominal", "scale": {"domain": [1, 2, 3, 4, 5, 6], "range": ["#555555", "#555555", "#555555", "#555555", "#9a9a9a", "#555555"]}, "legend": null},
            "strokeDash": {"field": "c", "type": "nominal", "scale": {"domain": [1, 2, 3, 4, 5, 6], "range": [[5, 3], [1, 2], [5, 2, 1, 2], [3, 2], [1, 0], [5, 3]]}, "legend": null}
          }
        },
        {
          "data": {"name": "arc"},
          "mark": {"type": "line", "color": "#444444", "strokeWidth": 1},
          "encoding": {
            "x": {"field": "a1", "type": "quantitative", "axis": {"orient": "top", "values": [0.42, 0.44, 0.46, 0.48, 0.52, 0.54, 0.56, 0.58, 0.62, 0.64, 0.66, 0.68, 0.72, 0.74, 0.76, 0.78], "labels": false, "domain": false, "tickSize": -2, "title": null}},
            "y": {"field": "a2", "type": "quantitative", "axis": {"orient": "right", "values": [0.42, 0.44, 0.46, 0.48, 0.52, 0.54, 0.56, 0.58, 0.62, 0.64, 0.66, 0.68, 0.72, 0.74, 0.76, 0.78], "labels": false, "domain": false, "tickSize": -2, "title": null}}
          }
        },
        {
          "data": {"values": [{"a1": 0.4, "a1e": 0.6, "a2": 0.6, "a2e": 0.6}, {"a1": 0.6, "a1e": 0.6, "a2": 0.4, "a2e": 0.6}]},
          "mark": {"type": "rule", "color": "#666666", "strokeDash": [4, 3], "strokeWidth": 1},
          "encoding": {
            "x": {"field": "a1", "type": "quantitative", "axis": null},
            "x2": {"field": "a1e"},
            "y": {"field": "a2", "type": "quantitative", "axis": null},
            "y2": {"field": "a2e"}
          }
        },
        {
          "data": {"values": [{"a1": 0.6, "a2": 0.6}]},
          "mark": {"type": "circle", "size": 34, "opacity": 1, "color": "#10e010"},
          "encoding": {
            "x": {"field": "a1", "type": "quantitative", "axis": null},
            "y": {"field": "a2", "type": "quantitative", "axis": null}
          }
        },
        {
          "data": {"values": [{"a1": 0.652, "a2": 0.574}]},
          "mark": {"type": "circle", "size": 34, "opacity": 1, "color": "#1010ee"},
          "encoding": {
            "x": {"field": "a1", "type": "quantitative", "axis": null},
            "y": {"field": "a2", "type": "quantitative", "axis": null}
          }
        }
      ]
    }
  ]
}
